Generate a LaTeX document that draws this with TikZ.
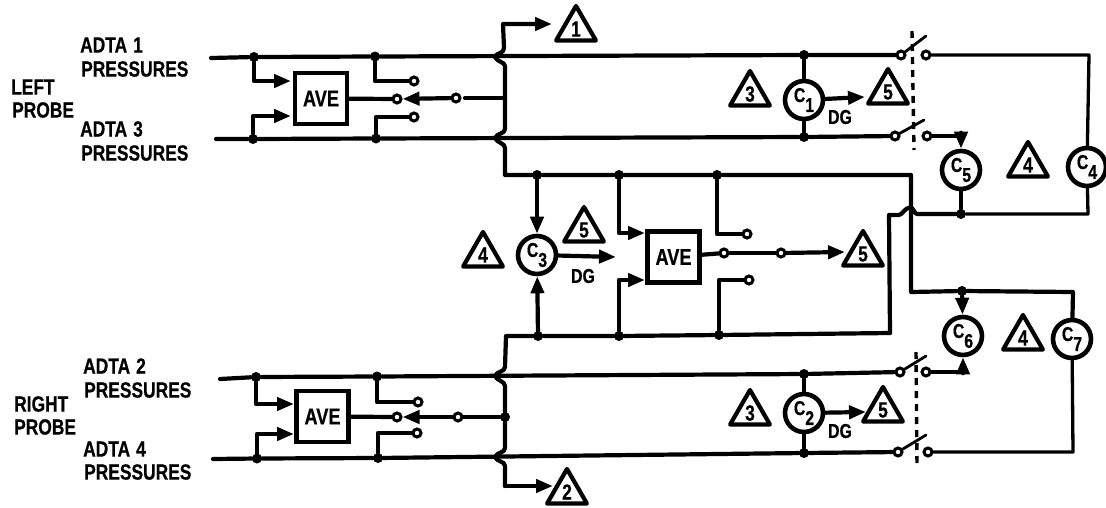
\documentclass[tikz,border=0pt]{standalone}
\usepackage{fontspec}
\setmainfont{Liberation Sans}[FakeStretch=0.79,BoldFeatures={FakeBold=0.6}]
\usetikzlibrary{arrows.meta,shapes.geometric}
\newcommand{\fs}[1]{\fontsize{#1}{#1}\selectfont\bfseries}
\newcommand{\capa}[1]{\raisebox{4pt}{C}\raisebox{-6pt}{#1}}
\newcommand{\gapsp}{\hspace{6pt}}
\tikzset{
  wire/.style={line width=4.2pt,line join=round,line cap=round},
  thin wire/.style={line width=3.3pt,line join=round,line cap=round},
  tip/.style={-{Triangle[length=17pt,width=13pt]}},
  dot/.style={circle,fill=black,inner sep=0pt,minimum size=10pt},
  contact/.style={circle,draw,fill=white,line width=3pt,inner sep=0pt,minimum size=8pt},
  avebox/.style={rectangle,draw,fill=white,line width=4.6pt,minimum width=52pt,minimum height=51pt,inner sep=0pt,font=\fs{23}},
  gauge/.style={circle,draw,fill=white,line width=4.6pt,minimum size=38pt,inner sep=0pt,font=\fs{20}},
  note/.style={regular polygon,regular polygon sides=3,draw,fill=white,line width=4.2pt,line join=round,minimum size=46pt,inner sep=0pt,font=\fs{22}},
  lab/.style={anchor=west,inner sep=0pt,font=\fs{22}},
  dg/.style={inner sep=0pt,font=\fs{20}},
  blade/.style={line width=2.8pt,line cap=round},
  gang/.style={line width=3.4pt,dash pattern=on 7pt off 6pt},
}
\begin{document}
\begin{tikzpicture}[x=1pt,y=-1pt]
\useasboundingbox (0,0) rectangle (1106,507);
% text
\node[lab] (t1) at (80,45) {ADTA\gapsp 1};
\node[lab] (t2) at (81,69) {PRESSURES};
\node[lab] (t3) at (80,129) {ADTA\gapsp 3};
\node[lab] (t4) at (81,153) {PRESSURES};
\node[lab] (t5) at (11,87) {LEFT};
\node[lab] (t6) at (12,110) {PROBE};
\node[lab] (t7) at (83,366) {ADTA\gapsp 2};
\node[lab] (t8) at (84,390) {PRESSURES};
\node[lab] (t9) at (83,449) {ADTA\gapsp 4};
\node[lab] (t10) at (84,472) {PRESSURES};
\node[lab] (t11) at (14,404) {RIGHT};
\node[lab] (t12) at (14,427) {PROBE};
% boxes and gauges
\node[avebox] (ave1) at (321,98.5) {AVE};
\node[avebox] (ave2) at (673.5,257) {AVE};
\node[avebox] (ave3) at (322.5,416.5) {AVE};
\node[gauge] (c1) at (804,100) {\capa{1}};
\node[gauge] (c2) at (804,413) {\capa{2}};
\node[gauge] (c3) at (537,255) {\capa{3}};
\node[gauge] (c4) at (1087,167) {\capa{4}};
\node[gauge] (c5) at (961,170) {\capa{5}};
\node[gauge] (c6) at (963,336) {\capa{6}};
\node[gauge] (c7) at (1072,339) {\capa{7}};
% flag triangles
\node[note] (n1) at (576,29) {1};
\node[note] (n2) at (567,492) {2};
\node[note] (n3a) at (750,94) {3};
\node[note] (n3b) at (750,413) {3};
\node[note] (n4a) at (1028,165) {4};
\node[note] (n4b) at (1023,338) {4};
\node[note] (n4c) at (483,255) {4};
\node[note] (n5a) at (888,92) {5};
\node[note] (n5b) at (883,410) {5};
\node[note] (n5c) at (584,230) {5};
\node[note] (n5d) at (863,254) {5};
\node[dg] (dg1) at (840,117) {DG};
\node[dg] (dg2) at (583,276) {DG};
\node[dg] (dg3) at (840,431) {DG};
% dots
\node[dot] (a1) at (254,57) {};
\node[dot] (a2) at (375,56.5) {};
\node[dot] (a3) at (804,55) {};
\node[dot] (b1) at (253,139) {};
\node[dot] (b2) at (376,138.5) {};
\node[dot] (b3) at (804,137) {};
\node[dot] (m1) at (537,175) {};
\node[dot] (m2) at (619,175) {};
\node[dot] (m3) at (717,175) {};
\node[dot] (q1) at (538,336) {};
\node[dot] (q2) at (619,336) {};
\node[dot] (q3) at (719,335) {};
\node[dot] (g1) at (961,214) {};
\node[dot] (g2) at (962,291) {};
\node[dot] (e1) at (256,377) {};
\node[dot] (e2) at (377,376.5) {};
\node[dot] (e3) at (804,374) {};
\node[dot] (f1) at (257,458.5) {};
\node[dot] (f2) at (378,458) {};
\node[dot] (f3) at (804,453) {};
\node[dot] (j1) at (505,417) {};
% contacts
\node[contact] (k1) at (414,81) {};
\node[contact] (k2) at (397,99) {};
\node[contact] (k3) at (414,117) {};
\node[contact] (k4) at (456,98) {};
\node[contact] (k5) at (747,234) {};
\node[contact] (k6) at (724,253) {};
\node[contact] (k7) at (749,280) {};
\node[contact] (k8) at (781,253) {};
\node[contact] (k9) at (418,402) {};
\node[contact] (k10) at (397,417) {};
\node[contact] (k11) at (417,433) {};
\node[contact] (k12) at (458,417) {};
\node[contact] (s1l) at (901,55) {};
\node[contact] (s1r) at (926,55) {};
\node[contact] (s2l) at (895,136) {};
\node[contact] (s2r) at (927,136) {};
\node[contact] (s3l) at (900,372) {};
\node[contact] (s3r) at (926,372) {};
\node[contact] (s4l) at (898,452) {};
\node[contact] (s4r) at (928,452) {};
% free ends and bends
\coordinate (l1) at (211,58);
\coordinate (l2) at (216,139);
\coordinate (l3) at (220,379);
\coordinate (l4) at (213,459);
\coordinate (i1) at (291,81);
\coordinate (i2) at (291,116);
\coordinate (i3) at (645,233);
\coordinate (i4) at (645,280);
\coordinate (i5) at (294,404);
\coordinate (i6) at (294,434);
\coordinate (h1) at (495,57);
\coordinate (h2) at (495,138);
\coordinate (h3) at (495,376);
\coordinate (h4) at (495,457);
\coordinate (v0) at (503,24);
\coordinate (v1) at (504,48);
\coordinate (v2) at (505,66);
\coordinate (v3) at (505,129);
\coordinate (v4) at (505,148);
\coordinate (v5) at (505,175);
\coordinate (v6) at (911,175);
\coordinate (v7) at (911,292);
\coordinate (v8) at (1073,292);
\coordinate (v9) at (505,98);
\coordinate (v10) at (465,98);
\coordinate (w0) at (506,336);
\coordinate (w1) at (890,333);
\coordinate (w2) at (889,215);
\coordinate (w3) at (899,215);
\coordinate (w4) at (917,214);
\coordinate (w5) at (1088,214);
\coordinate (w6) at (1089,55);
\coordinate (w7) at (505,367);
\coordinate (w8) at (505,386);
\coordinate (w9) at (505,448);
\coordinate (w10) at (505,466);
\coordinate (w11) at (505,486);
\coordinate (w12) at (1073,452);
\coordinate (p1) at (552,24);
\coordinate (p2) at (553,486);
\coordinate (p3) at (865,97);
\coordinate (p4) at (866,412);
\coordinate (p5) at (616,257);
\coordinate (p6) at (845,252);
\coordinate (u1) at (926,36);
\coordinate (u2) at (924,120);
\coordinate (u3) at (926,356);
\coordinate (u4) at (926,435);
\coordinate (z1) at (912,31);
\coordinate (z2) at (914,150);
\coordinate (z3) at (916,352);
\coordinate (z4) at (917,466);
% main buses
\draw[wire] (l1) -- (a1) -- (a2) -- (a3) -- (s1l);
\draw[wire] (l2) -- (b1) -- (b2) -- (b3) -- (s2l);
\draw[wire] (l3) -- (e1) -- (e2) -- (e3) -- (s3l);
\draw[wire] (l4) -- (f1) -- (f2) -- (f3) -- (s4l);
% averager inputs, contacts
\draw[wire,tip] (a1) |- (i1);
\draw[wire,tip] (b1) |- (i2);
\draw[wire,tip] (m2) |- (i3);
\draw[wire,tip] (q2) |- (i4);
\draw[wire,tip] (e1) |- (i5);
\draw[wire,tip] (f1) |- (i6);
\draw[wire] (a2) |- (k1);
\draw[wire] (b2) |- (k3);
\draw[wire] (m3) |- (k5);
\draw[wire] (q3) |- (k7);
\draw[wire] (e2) |- (k9);
\draw[wire] (f2) |- (k11);
\draw[wire] (ave1) -- (k2);
\draw[wire] (ave2) -- (k6);
\draw[wire] (ave3) -- (k10);
\draw[wire] (k6) -- (k8);
\draw[wire,tip] (k8) -- (p6);
\draw[wire,tip] (k4) -- (k2);
\draw[wire,tip] (k12) -- (k10);
\draw[wire] (v10) -- (v9);
\draw[wire] (k12) -- (j1);
% crossover buses
\draw[wire,tip] (v1) -- (v0) -- (p1);
\draw[wire] (v1) .. controls +(0,6) and +(2,-5) .. (h1) .. controls +(2,5) and +(0,-4) .. (v2)
  -- (v3) .. controls +(0,5) and +(2,-5) .. (h2) .. controls +(2,5) and +(0,-5) .. (v4)
  -- (v5) -- (m1) -- (m2) -- (m3) -- (v6) -- (v7) -- (g2) -- (v8) -- (c7);
\draw[wire] (w1) -- (q3) -- (q2) -- (q1) -- (w0) -- (w7)
  .. controls +(0,5) and +(2,-5) .. (h3) .. controls +(2,5) and +(0,-5) .. (w8)
  -- (j1) -- (w9) .. controls +(0,5) and +(2,-5) .. (h4) .. controls +(2,5) and +(0,-5) .. (w10)
  -- (w11);
\draw[wire,tip] (w11) -- (p2);
\draw[wire] (w1) -- (w2) -- (w3) .. controls +(3,0) and +(-5,0) .. (910,207.5) .. controls +(4,0) and +(-3,0) .. (w4) -- (g1);
\draw[thin wire] (g1) -- (w5) -- (c4);
% gauges
\draw[wire] (a3) -- (c1);
\draw[wire] (c1) -- (b3);
\draw[wire] (e3) -- (c2);
\draw[wire] (c2) -- (f3);
\draw[wire,tip] (m1) -- (c3);
\draw[wire,tip] (q1) -- (c3);
\draw[wire] (c5) -- (g1);
\draw[wire,tip] (g2) -- (c6);
\draw[wire,tip] (s2r) -| (c5.north);
\draw[wire,tip] (s3r) -| (c6.south);
\draw[wire,tip] (c1) -- (p3);
\draw[wire,tip] (c2) -- (p4);
\draw[wire,tip] (c3) -- (p5);
% right-hand returns
\draw[thin wire] (s1r) -- (w6) -- (c4);
\draw[thin wire] (s4r) -- (w12) -- (c7);
% switch blades and ganging
\draw[blade] (s1l) -- (u1);
\draw[blade] (s2l) -- (u2);
\draw[blade] (s3l) -- (u3);
\draw[blade] (s4l) -- (u4);
\draw[gang] (z1) -- (z2);
\draw[gang] (z3) -- (z4);
\end{tikzpicture}
\end{document}
